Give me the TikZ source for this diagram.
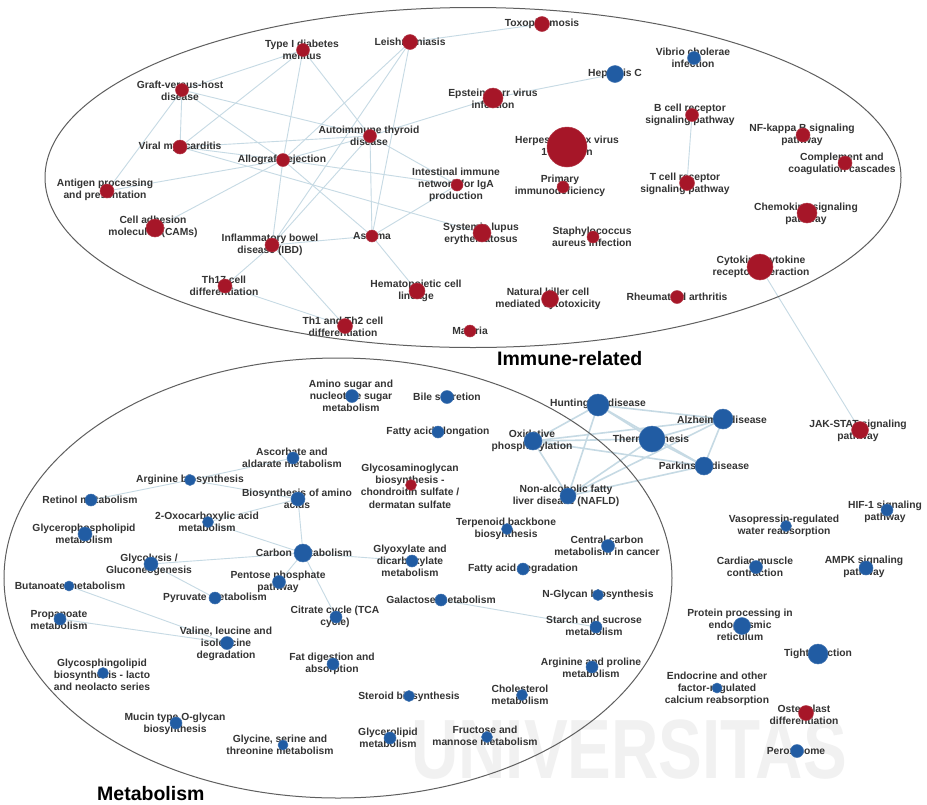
\documentclass[tikz,border=0pt]{standalone}
\usepackage{fontspec}
\setmainfont{Liberation Sans}
\definecolor{nred}{RGB}{166,22,40}
\definecolor{nblue}{RGB}{33,92,163}
\definecolor{ecol}{RGB}{198,218,228}
\definecolor{tcol}{RGB}{52,52,52}
\definecolor{ellcol}{RGB}{95,95,95}
\definecolor{wmcol}{RGB}{241,241,241}
\newcommand{\lblfont}{\fontsize{10.3}{12.3}\selectfont\bfseries}
\pgfdeclarelayer{wmlayer}
\pgfdeclarelayer{edgelayer}
\pgfdeclarelayer{lbllayer}
\pgfsetlayers{wmlayer,edgelayer,lbllayer,main}
\tikzset{
  lbl/.style={font=\lblfont, text=tcol, align=center, inner sep=0pt},
  rn/.style={circle, fill=nred, draw=nred!85!white, line width=0.5pt, inner sep=0pt, minimum size=#1},
  bn/.style={circle, fill=nblue, draw=nblue!85!white, line width=0.5pt, inner sep=0pt, minimum size=#1},
  edge/.style={draw=ecol, line width=0.9pt},
  tedge/.style={draw=ecol, line width=1.6pt},
  grp/.style={draw=ellcol, line width=1pt},
  title/.style={font=\fontsize{19.5}{22}\selectfont\bfseries, text=black, inner sep=0pt, anchor=base west}
}
% name, style, diameter, node pos, label pos, text
\newcommand{\nd}[6]{%
  \begin{pgfonlayer}{lbllayer}\node[lbl] (#1-t) at (#5) {#6};\end{pgfonlayer}%
  \node[#2=#3pt] (#1) at (#4) {};}
\begin{document}
\begin{tikzpicture}[x=1pt,y=-1pt]
\useasboundingbox (0,0) rectangle (927,804);
\begin{pgfonlayer}{wmlayer}
\fill[white] (0,0) rectangle (927,804);
\node[text=wmcol, font=\fontsize{84}{84}\selectfont\bfseries, xscale=0.78, inner sep=0pt] (wm) at (629,750) {UNIVERSITAS};
\end{pgfonlayer}
% group outlines
\draw[grp] (473,177.5) ellipse [x radius=428pt, y radius=170pt];
\draw[grp] (338,578) ellipse [x radius=334pt, y radius=220pt];
\node[title] (immune) at (497,365) {Immune-related};
\node[title] (metab) at (97,800) {Metabolism};
% immune nodes
\nd{type1}{rn}{13}{303,50}{302,50}{Type I diabetes\\mellitus}
\nd{graft}{rn}{13}{182,90}{180,91}{Graft-versus-host\\disease}
\nd{viral}{rn}{14}{180,147}{180,147}{Viral myocarditis}
\nd{allo}{rn}{13}{283,160}{282,160}{Allograft rejection}
\nd{antigen}{rn}{14}{107,191}{105,190}{Antigen processing\\and presentation}
\nd{cam}{rn}{18}{155,228}{153,227}{Cell adhesion\\molecules (CAMs)}
\nd{ibd}{rn}{14}{272,245}{270,245}{Inflammatory bowel\\disease (IBD)}
\nd{leish}{rn}{15}{410,42}{410,42}{Leishmaniasis}
\nd{toxo}{rn}{15}{542,24}{542,24}{Toxoplasmosis}
\nd{hepc}{bn}{17}{615,74}{615,74}{Hepatitis C}
\nd{ebv}{rn}{20}{493,98}{493,99}{Epstein-Barr virus\\infection}
\nd{ait}{rn}{13}{370,136}{369,136}{Autoimmune thyroid\\disease}
\nd{hsv}{rn}{40}{567,147}{567,146}{Herpes simplex virus\\1 infection}
\nd{iga}{rn}{12}{457,185}{456,185}{Intestinal immune\\network for IgA\\production}
\nd{pid}{rn}{12}{563,187}{560,186}{Primary\\immunodeficiency}
\nd{asthma}{rn}{12}{372,236}{372,236}{Asthma}
\nd{sle}{rn}{18}{482,233}{481,234}{Systemic lupus\\erythematosus}
\nd{staph}{rn}{12}{593,237}{592,237}{Staphylococcus\\aureus infection}
\nd{vibrio}{bn}{13}{694,58}{693,58}{Vibrio cholerae\\infection}
\nd{bcr}{rn}{13}{692,115}{690,115}{B cell receptor\\signaling pathway}
\nd{nfkb}{rn}{14}{803,135}{802,135}{NF-kappa B signaling\\pathway}
\nd{compl}{rn}{14}{845,163}{842,164}{Complement and\\coagulation cascades}
\nd{tcr}{rn}{15}{687,183}{685,184}{T cell receptor\\signaling pathway}
\nd{chemo}{rn}{20}{807,213}{806,214}{Chemokine signaling\\pathway}
\nd{cyto}{rn}{26}{760,267}{761,267}{Cytokine-cytokine\\receptor interaction}
\nd{th17}{rn}{14}{225,286}{224,286}{Th17 cell\\differentiation}
\nd{hema}{rn}{16}{417,291}{416,291}{Hematopoietic cell\\lineage}
\nd{nk}{rn}{17}{550,299}{548,299}{Natural killer cell\\mediated cytotoxicity}
\nd{th12}{rn}{15}{345,326}{343,327}{Th1 and Th2 cell\\differentiation}
\nd{malaria}{rn}{12}{470,331}{470,331}{Malaria}
\nd{ra}{rn}{13}{677,297}{677,297}{Rheumatoid arthritis}
% other nodes
\nd{aminosugar}{bn}{13}{352,396}{351,396}{Amino sugar and\\nucleotide sugar\\metabolism}
\nd{bile}{bn}{13}{447,397}{447,397}{Bile secretion}
\nd{faelong}{bn}{12}{438,432}{438,432}{Fatty acid elongation}
\nd{hunt}{bn}{22}{598,405}{598,404}{Huntington disease}
\nd{oxphos}{bn}{18}{533,441}{532,441}{Oxidative\\phosphorylation}
\nd{gag}{rn}{11}{411,485}{410,486}{Glycosaminoglycan\\biosynthesis -\\chondroitin sulfate /\\dermatan sulfate}
\nd{nafld}{bn}{16}{568,496}{566,496}{Non-alcoholic fatty\\liver disease (NAFLD)}
\nd{terp}{bn}{11}{507,529}{506,529}{Terpenoid backbone\\biosynthesis}
\nd{alz}{bn}{20}{723,419}{722,420}{Alzheimer disease}
\nd{thermo}{bn}{26}{652,439}{651,440}{Thermogenesis}
\nd{park}{bn}{18}{704,466}{704,466}{Parkinson disease}
\nd{jak}{rn}{17}{860,430}{858,431}{JAK-STAT signaling\\pathway}
\nd{hif}{bn}{12}{887,510}{885,512}{HIF-1 signaling\\pathway}
\nd{vaso}{bn}{11}{786,526}{784,526}{Vasopressin-regulated\\water reabsorption}
\nd{asc}{bn}{12}{293,458}{292,458}{Ascorbate and\\aldarate metabolism}
\nd{argbio}{bn}{11}{190,480}{190,480}{Arginine biosynthesis}
\nd{retinol}{bn}{12}{91,500}{90,500}{Retinol metabolism}
\nd{bioaa}{bn}{14}{298,499}{297,499}{Biosynthesis of amino\\acids}
\nd{oxo}{bn}{11}{208,522}{207,522}{2-Oxocarboxylic acid\\metabolism}
\nd{gpl}{bn}{14}{85,534}{84,534}{Glycerophospholipid\\metabolism}
\nd{glyc}{bn}{14}{151,564}{149,565}{Glycolysis /\\Gluconeogenesis}
\nd{carbon}{bn}{18}{303,553}{304,553}{Carbon metabolism}
\nd{buta}{bn}{10}{69,586}{70,586}{Butanoate metabolism}
\nd{pentose}{bn}{13}{279,582}{278,582}{Pentose phosphate\\pathway}
\nd{pyru}{bn}{12}{215,598}{215,598}{Pyruvate metabolism}
\nd{propa}{bn}{12}{60,619}{59,620}{Propanoate\\metabolism}
\nd{tca}{bn}{12}{336,617}{335,617}{Citrate cycle (TCA\\cycle)}
\nd{valine}{bn}{13}{227,643}{226,644}{Valine, leucine and\\isoleucine\\degradation}
\nd{gsl}{bn}{11}{103,673}{102,675}{Glycosphingolipid\\biosynthesis - lacto\\and neolacto series}
\nd{fat}{bn}{12}{333,664}{332,664}{Fat digestion and\\absorption}
\nd{mucin}{bn}{12}{176,723}{175,724}{Mucin type O-glycan\\biosynthesis}
\nd{glycine}{bn}{10}{283,745}{280,745}{Glycine, serine and\\threonine metabolism}
\nd{glyox}{bn}{12}{412,561}{410,561}{Glyoxylate and\\dicarboxylate\\metabolism}
\nd{ccmc}{bn}{13}{608,546}{607,546}{Central carbon\\metabolism in cancer}
\nd{fadeg}{bn}{12}{523,569}{523,569}{Fatty acid degradation}
\nd{galac}{bn}{12}{441,600}{441,600}{Galactose metabolism}
\nd{nglycan}{bn}{11}{598,595}{598,595}{N-Glycan biosynthesis}
\nd{starch}{bn}{12}{596,627}{594,626}{Starch and sucrose\\metabolism}
\nd{argpro}{bn}{12}{592,667}{591,668}{Arginine and proline\\metabolism}
\nd{steroid}{bn}{11}{409,696}{409,697}{Steroid biosynthesis}
\nd{chol}{bn}{11}{522,695}{520,695}{Cholesterol\\metabolism}
\nd{glycerol}{bn}{12}{390,738}{388,738}{Glycerolipid\\metabolism}
\nd{fructose}{bn}{11}{487,737}{485,736}{Fructose and\\mannose metabolism}
\nd{cardiac}{bn}{13}{756,567}{755,567}{Cardiac muscle\\contraction}
\nd{ampk}{bn}{14}{866,568}{864,567}{AMPK signaling\\pathway}
\nd{protein}{bn}{17}{742,626}{740,625}{Protein processing in\\endoplasmic\\reticulum}
\nd{tight}{bn}{20}{818,654}{818,654}{Tight junction}
\nd{endo}{bn}{10}{717,688}{717,689}{Endocrine and other\\factor-regulated\\calcium reabsorption}
\nd{osteo}{rn}{15}{806,713}{804,715}{Osteoclast\\differentiation}
\nd{perox}{bn}{13}{797,751}{796,751}{Peroxisome}
% connectors
\begin{pgfonlayer}{edgelayer}
\foreach \a/\b in {type1/graft, type1/viral, type1/allo, type1/ait,
  graft/viral, graft/allo, graft/antigen, graft/ait,
  viral/allo, viral/ait, viral/sle,
  allo/antigen, allo/cam, allo/ibd, allo/asthma, allo/ait, allo/iga, allo/leish,
  leish/toxo, leish/asthma, leish/ibd,
  ait/asthma, ait/ibd, ait/iga, ait/ebv,
  asthma/ibd, asthma/iga, asthma/hema,
  ibd/th17, ibd/th12, th17/th12,
  hepc/ebv, bcr/tcr, cyto/jak,
  carbon/bioaa, carbon/oxo, carbon/glyc, carbon/pentose, carbon/tca, carbon/glyox,
  bioaa/oxo, bioaa/argbio, argbio/asc, argbio/retinol, glyc/pyru,
  buta/valine, propa/valine, galac/starch}
  \draw[edge] (\a) -- (\b);
\foreach \a/\b in {hunt/alz, hunt/thermo, hunt/park, hunt/oxphos, hunt/nafld,
  alz/thermo, alz/park, alz/oxphos, alz/nafld,
  thermo/park, thermo/oxphos, thermo/nafld,
  park/oxphos, park/nafld, oxphos/nafld}
  \draw[tedge] (\a) -- (\b);
\end{pgfonlayer}
\end{tikzpicture}
\end{document}
